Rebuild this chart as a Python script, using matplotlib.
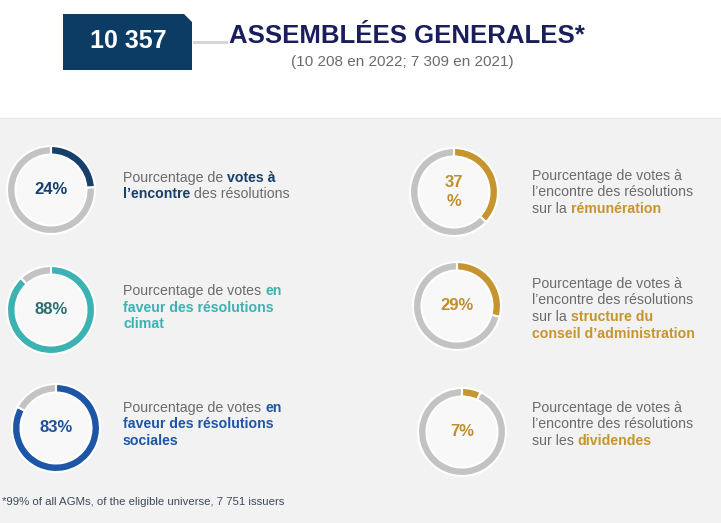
import matplotlib
matplotlib.use("Agg")
import matplotlib.pyplot as plt
from matplotlib.patches import Polygon, Rectangle, Circle

W, H = 721, 523
plt.rcParams['font.family'] = ['Liberation Sans', 'DejaVu Sans']

# ---------------- data ----------------
header_value = "10 357"
title = "ASSEMBLÉES GENERALES*"
subtitle = "(10 208 en 2022; 7 309 en 2021)"
footnote = "*99% of all AGMs, of the eligible universe, 7 751 issuers"

pct_values = [24, 88, 83, 37, 29, 7]
pct_labels = ["24%", "88%", "83%", "37\n%", "29%", "7%"]
accent_colors = ["#163f6a", "#3db2b3", "#1d56a6", "#c6952f", "#c6952f", "#c6952f"]
value_text_colors = ["#163f6a", "#2c6f70", "#1d4f9c", "#c08f2c", "#c08f2c", "#c08f2c"]

# text segments per panel: list of lines, each a list of (text, highlighted)
desc_lines = [
    [[("Pourcentage de ", 0), ("votes à", 1)],
     [("l’encontre", 1), (" des résolutions", 0)]],
    [[("Pourcentage de votes ", 0), ("en", 1)],
     [("faveur des résolutions", 1)],
     [("climat", 1)]],
    [[("Pourcentage de votes ", 0), ("en", 1)],
     [("faveur des résolutions", 1)],
     [("sociales", 1)]],
    [[("Pourcentage de votes à", 0)],
     [("l’encontre des résolutions", 0)],
     [("sur la ", 0), ("rémunération", 1)]],
    [[("Pourcentage de votes à", 0)],
     [("l’encontre des résolutions", 0)],
     [("sur la ", 0), ("structure du", 1)],
     [("conseil d’administration", 1)]],
    [[("Pourcentage de votes à", 0)],
     [("l’encontre des résolutions", 0)],
     [("sur les ", 0), ("dividendes", 1)]],
]

# ---------------- layout (pixels, from top) ----------------
donut_centers = [(51, 190), (51, 310), (56, 428), (454, 192), (457, 306), (462, 432)]
donut_r = 44
ring_w = 8.5
text_pos = [(123, 177), (123, 290), (123, 407), (532, 175), (532, 283), (532, 407)]
line_h = 16.5
body_fs = 10.2

ring_grey = "#c3c3c3"
body_grey = "#6b6b6b"
panel_bg = "#f2f2f2"

fig = plt.figure(figsize=(W / 100, H / 100), dpi=100)
fig.patch.set_facecolor("white")
ax = fig.add_axes([0, 0, 1, 1])


def Y(y):
    return H - y


# grey panel
ax.add_patch(Rectangle((0, 0), W, Y(118), facecolor=panel_bg, edgecolor="none", zorder=0))
ax.plot([0, W], [Y(118), Y(118)], color="#e8e8e8", lw=1, zorder=0.5)

# header box with chamfered corner
bx0, bx1, by0, by1, cut = 63, 192, 14, 70, 8
ax.add_patch(Polygon([(bx0, Y(by0)), (bx1 - cut, Y(by0)), (bx1, Y(by0 + cut)),
                      (bx1, Y(by1)), (bx0, Y(by1))],
                     closed=True, facecolor="#0c3b64", edgecolor="none", zorder=2))
ax.text(128, Y(41), header_value, color="white", fontsize=18,
        fontweight="bold", ha="center", va="center", zorder=3)
ax.plot([bx1 + 2, 226], [Y(42), Y(42)], color="#d4d4d4", lw=2, zorder=1)
ax.text(229, Y(36), title, color="#1a1f5c", fontsize=18.5, fontweight="bold",
        ha="left", va="center")
ax.text(402, Y(62), subtitle, color="#6b6b6b", fontsize=11,
        ha="center", va="center")

# donuts
for (cx, cy), v, col in zip(donut_centers, pct_values, accent_colors):
    ax.add_patch(Circle((cx, Y(cy)), donut_r - ring_w, facecolor="#f8f8f8",
                        edgecolor="none", zorder=0.8))
    ax.pie([v, 100 - v], colors=[col, ring_grey], startangle=90, counterclock=False,
           center=(cx, Y(cy)), radius=donut_r, frame=True,
           wedgeprops=dict(width=ring_w, edgecolor="white", linewidth=1.5))

for (cx, cy), lab, col in zip(donut_centers, pct_labels, value_text_colors):
    ax.text(cx, Y(cy), lab, color=col, fontsize=12, fontweight="bold",
            ha="center", va="center", linespacing=1.35)

# descriptions with mixed colouring
renderer = fig.canvas.get_renderer()


def text_width(s, weight):
    t1 = ax.text(0, 0, s + "x", fontsize=body_fs, fontweight=weight)
    t2 = ax.text(0, 0, "x", fontsize=body_fs, fontweight=weight)
    w = t1.get_window_extent(renderer).width - t2.get_window_extent(renderer).width
    t1.remove()
    t2.remove()
    return w


for (tx, ty), lines, col in zip(text_pos, desc_lines, accent_colors):
    for i, segs in enumerate(lines):
        x = tx
        base = Y(ty + i * line_h + 5)
        for s, hl in segs:
            weight = "bold" if hl else "normal"
            c = col if hl else body_grey
            ax.text(x, base, s, color=c, fontsize=body_fs, fontweight=weight,
                    ha="left", va="baseline")
            x += text_width(s, weight)

ax.text(2, Y(502), footnote, color="#3d4a5a", fontsize=8.2, ha="left", va="center")

ax.set_xlim(0, W)
ax.set_ylim(0, H)
ax.set_aspect("auto")
ax.axis("off")

fig.savefig("out.png", dpi=100, facecolor="white")
